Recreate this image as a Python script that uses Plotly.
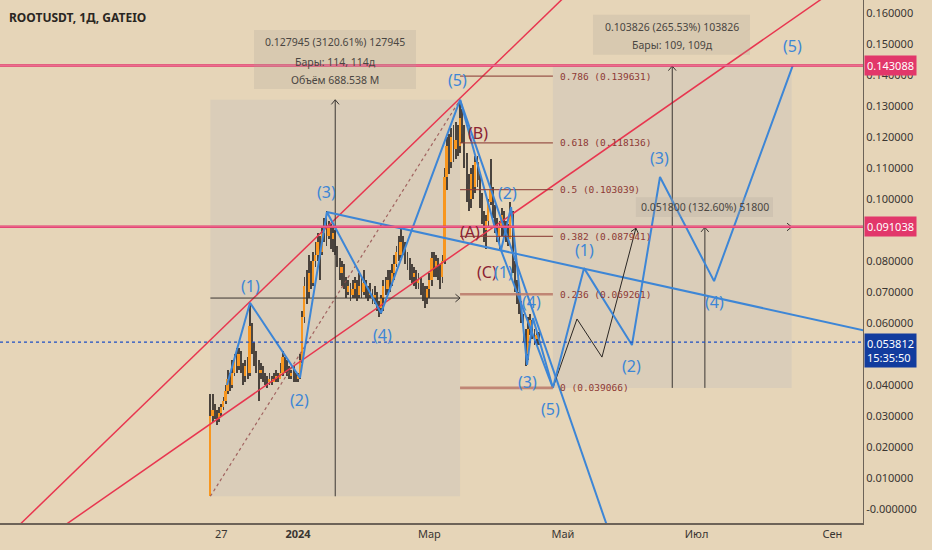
import math
import plotly.graph_objects as go

# ---------------- data (day index relative to 2024-01-01) ----------------
first_day = -40
first_open = 0.0041
close = [0.030, 0.032, 0.030, 0.029, 0.031, 0.033, 0.035, 0.038, 0.042, 0.040,
         0.044, 0.048, 0.046, 0.050, 0.045, 0.043, 0.046, 0.044, 0.059, 0.052,
         0.049, 0.046, 0.044, 0.045, 0.043, 0.042, 0.041, 0.042, 0.041, 0.042,
         0.043, 0.042, 0.044, 0.049, 0.046, 0.045, 0.043, 0.044, 0.043, 0.042,
         0.043, 0.048, 0.062, 0.072, 0.070, 0.076, 0.073, 0.080, 0.082, 0.086,
         0.083, 0.089, 0.091, 0.088, 0.091, 0.087, 0.089, 0.084, 0.080, 0.076,
         0.078, 0.073, 0.070, 0.072, 0.069, 0.071, 0.073, 0.069, 0.072, 0.070,
         0.073, 0.071, 0.069, 0.070, 0.068, 0.069, 0.066, 0.065, 0.068, 0.072,
         0.071, 0.074, 0.073, 0.076, 0.079, 0.083, 0.082, 0.086, 0.084, 0.082,
         0.079, 0.078, 0.075, 0.076, 0.073, 0.074, 0.072, 0.070, 0.068, 0.071,
         0.074, 0.081, 0.078, 0.080, 0.077, 0.075, 0.080, 0.107, 0.117, 0.112,
         0.120, 0.116, 0.119, 0.117, 0.126, 0.121, 0.113, 0.105, 0.100, 0.108,
         0.104, 0.112, 0.106, 0.100, 0.094, 0.090, 0.093, 0.099, 0.103, 0.096,
         0.092, 0.088, 0.091, 0.095, 0.090, 0.089, 0.087, 0.095, 0.078, 0.072,
         0.068, 0.066, 0.062, 0.056, 0.050, 0.058, 0.061, 0.057, 0.055, 0.056,
         0.053812]
high = [0.037, 0.037, 0.034, 0.032, 0.033, 0.034, 0.036, 0.040, 0.045, 0.044,
        0.048, 0.050, 0.052, 0.052, 0.051, 0.047, 0.048, 0.049, 0.066, 0.060,
        0.054, 0.051, 0.048, 0.047, 0.046, 0.044, 0.043, 0.044, 0.043, 0.044,
        0.045, 0.044, 0.047, 0.051, 0.049, 0.048, 0.046, 0.045, 0.046, 0.044,
        0.044, 0.050, 0.064, 0.075, 0.077, 0.082, 0.080, 0.083, 0.086, 0.089,
        0.088, 0.091, 0.094, 0.096, 0.093, 0.092, 0.091, 0.090, 0.085, 0.081,
        0.080, 0.079, 0.075, 0.074, 0.073, 0.074, 0.075, 0.074, 0.076, 0.075,
        0.077, 0.074, 0.072, 0.073, 0.071, 0.072, 0.070, 0.067, 0.069, 0.074,
        0.075, 0.077, 0.077, 0.079, 0.082, 0.085, 0.088, 0.091, 0.088, 0.086,
        0.083, 0.081, 0.079, 0.078, 0.077, 0.076, 0.075, 0.073, 0.072, 0.072,
        0.076, 0.083, 0.083, 0.082, 0.081, 0.079, 0.082, 0.110, 0.120, 0.121,
        0.123, 0.124, 0.125, 0.124, 0.132, 0.129, 0.124, 0.115, 0.108, 0.110,
        0.111, 0.114, 0.114, 0.108, 0.102, 0.096, 0.095, 0.100, 0.113, 0.104,
        0.098, 0.094, 0.093, 0.097, 0.096, 0.093, 0.092, 0.099, 0.096, 0.080,
        0.074, 0.070, 0.067, 0.063, 0.058, 0.062, 0.063, 0.061, 0.058, 0.057,
        0.057]
low = [0.0041, 0.028, 0.029, 0.027, 0.028, 0.030, 0.032, 0.034, 0.037, 0.038,
       0.039, 0.043, 0.044, 0.045, 0.044, 0.040, 0.041, 0.042, 0.043, 0.050,
       0.046, 0.044, 0.035, 0.042, 0.041, 0.040, 0.039, 0.040, 0.040, 0.041,
       0.041, 0.041, 0.042, 0.043, 0.044, 0.043, 0.042, 0.042, 0.041, 0.041,
       0.041, 0.042, 0.047, 0.060, 0.066, 0.068, 0.071, 0.072, 0.078, 0.080,
       0.074, 0.082, 0.086, 0.085, 0.087, 0.084, 0.083, 0.082, 0.078, 0.074,
       0.072, 0.071, 0.068, 0.069, 0.067, 0.068, 0.068, 0.067, 0.068, 0.068,
       0.069, 0.068, 0.067, 0.068, 0.066, 0.066, 0.064, 0.062, 0.063, 0.064,
       0.069, 0.069, 0.070, 0.072, 0.074, 0.078, 0.080, 0.081, 0.082, 0.079,
       0.077, 0.074, 0.073, 0.072, 0.071, 0.071, 0.069, 0.067, 0.065, 0.066,
       0.068, 0.072, 0.075, 0.075, 0.074, 0.071, 0.073, 0.079, 0.103, 0.108,
       0.110, 0.112, 0.113, 0.114, 0.115, 0.118, 0.110, 0.099, 0.096, 0.097,
       0.100, 0.102, 0.104, 0.097, 0.092, 0.086, 0.084, 0.091, 0.098, 0.094,
       0.089, 0.086, 0.084, 0.088, 0.088, 0.086, 0.085, 0.087, 0.076, 0.070,
       0.066, 0.063, 0.060, 0.054, 0.046, 0.048, 0.056, 0.055, 0.053, 0.053,
       0.053]
last_price = 0.053812
countdown = "15:35:50"

# x tick labels
x_tickvals = [-35, 0, 60, 121, 182, 244]
x_ticktext = ["27", "<b>2024</b>", "Мар", "Май", "Июл", "Сен"]
# 0.05 and 0.09 are hidden behind the price tags in the reference
y_tickvals = [0.00, 0.01, 0.02, 0.03, 0.04, 0.06, 0.07, 0.08,
              0.10, 0.11, 0.12, 0.13, 0.14, 0.15, 0.16]
y_ticktext = ["-0.000000"] + ["%.6f" % v for v in y_tickvals[1:]]

# horizontal levels
h_levels = [0.143088, 0.091038]

# fibonacci retracement
fib_x = [74, 116.4]
fib_ratios = [0.786, 0.618, 0.5, 0.382, 0.236, 0]
fib_prices = [0.139631, 0.118136, 0.103039, 0.087941, 0.069261, 0.039066]
fib_names = ["0.786", "0.618", "0.5", "0.382", "0.236", "0"]

# Elliott waves (day, price)
impulse_x = [-32.4, -21.9, 0.9, 13.2, 37.9, 74]
impulse_y = [0.0400, 0.0665, 0.0423, 0.0958, 0.0632, 0.1320]
impulse_lbl_x = [-21.5, 0.5, 13.2, 38.4, 73.0]
impulse_lbl_y = [0.0719, 0.0352, 0.1023, 0.0561, 0.1384]

decline_x = [74, 92.7, 97.3, 104.6, 107.3, 116.4]
decline_y = [0.1320, 0.0835, 0.0974, 0.0465, 0.0616, 0.039066]
decline_lbl_x = [93.8, 95.5, 104.6, 106.6, 115.5]
decline_lbl_y = [0.0765, 0.1019, 0.0410, 0.0668, 0.0323]
decline_side_x = [92.7, 116.4]
decline_side_y = [0.0835, 0.039066]
decline_chan_x = [74, 150]
decline_chan_y = [0.1320, -0.0236]

proj_x = [116.4, 130.6, 152.5, 165.3, 190.0, 226.0]
proj_y = [0.039066, 0.0777, 0.0529, 0.1071, 0.0735, 0.1432]
proj_lbl_x = [131.0, 152.5, 165.3, 190.4, 225.6]
proj_lbl_y = [0.0835, 0.0461, 0.1132, 0.0668, 0.1494]

abc_lbl = ["(A)", "(B)", "(C)"]
abc_x = [78.5, 82.2, 86.2]
abc_y = [0.0894, 0.1213, 0.0765]

black_x = [116.4, 127.4, 138.8, 154.3]
black_y = [0.039066, 0.0613, 0.0490, 0.0906]

trend_x = [13.2, 270]
trend_y = [0.0958, 0.0558]
red_up_x = [-140, 140]
red_up_y = [-0.0139, 0.1777]
red_lo_x = [-140, 260]
red_lo_y = [-0.0217, 0.1748]

# measurements: (x0, x1, y0, y1)
meas1 = (-40, 74, 0.0041, 0.1320)
meas1_text = ["0.127945 (3120.61%) 127945", "Бары: 114, 114д", "Объём 688.538 M"]
meas2 = (116.4, 225.4, 0.039066, 0.142892)
meas2_text = ["0.103826 (265.53%) 103826", "Бары: 109, 109д"]
meas3_x = 185.8
meas3 = (0.039066, 0.090866)
meas3_text = "0.051800 (132.60%) 51800"

# ---------------- styling ----------------
BG = "#E6D5B8"
BLUE = "#3D86D6"
RED = "#E8364F"
HRED = "#E2376A"
FIBC = "rgba(140,62,55,0.85)"
FIBC2 = "rgba(185,120,105,0.85)"
ORANGE = "#F8961E"
DOWN = "rgba(78,72,66,0.85)"
WICK = "#4a433d"
TXT = "#4a4642"

X_RANGE = [-136.07, 258.0]
Y_RANGE = [-0.004516, 0.164194]
PX_PER_DAY = 2.19
PX_PER_UNIT = 3100.0

fig = go.Figure()

days = list(range(first_day, first_day + len(close)))
opens = [first_open] + close[:-1]

# measurement boxes (below)
shapes = []
for (x0, x1, y0, y1) in [meas1, meas2]:
    shapes.append(dict(type="rect", xref="x", yref="y", x0=x0, x1=x1, y0=y0, y1=y1,
                       fillcolor="rgba(185,185,190,0.28)", line=dict(width=0), layer="below"))

# wicks (thin bars, drawn under bodies)
fig.add_trace(go.Bar(x=days, y=[h - l for h, l in zip(high, low)], base=low, width=0.4,
                     marker=dict(color=WICK, line=dict(width=0)), showlegend=False,
                     hoverinfo="skip"))
# bodies
base = [min(o, c) for o, c in zip(opens, close)]
height = [max(abs(c - o), 0.0004) for o, c in zip(opens, close)]
cols = [ORANGE if c >= o else DOWN for o, c in zip(opens, close)]
fig.add_trace(go.Bar(x=days, y=height, base=base, width=0.85,
                     marker=dict(color=cols, line=dict(width=0)), showlegend=False,
                     hoverinfo="skip"))

def line(x, y, color, width, dash="solid"):
    fig.add_trace(go.Scatter(x=x, y=y, mode="lines", line=dict(color=color, width=width, dash=dash),
                             hoverinfo="skip", showlegend=False))

def chevron(tx, ty, fx, fy, color, size=6.0):
    # arrow from (fx,fy) to tip (tx,ty); computed in pixel space
    dxp = (tx - fx) * PX_PER_DAY
    dyp = (ty - fy) * PX_PER_UNIT
    n = math.hypot(dxp, dyp)
    ux, uy = dxp / n, dyp / n
    pts_x, pts_y = [], []
    for s in (1, -1):
        ang = math.radians(40) * s
        rx = -(ux * math.cos(ang) - uy * math.sin(ang)) * size
        ry = -(ux * math.sin(ang) + uy * math.cos(ang)) * size
        pts_x.append(tx + rx / PX_PER_DAY)
        pts_y.append(ty + ry / PX_PER_UNIT)
    line([pts_x[0], tx, pts_x[1]], [pts_y[0], ty, pts_y[1]], color, 1)

# red diagonal lines
line(red_up_x, red_up_y, RED, 1.5)
line(red_lo_x, red_lo_y, RED, 1.5)

# measurement 1 drawing
mx0, mx1, my0, my1 = meas1
line([mx0, mx1], [my0, my1], "rgba(150,80,80,0.85)", 1.2, "3px,3px")
mxm = (mx0 + mx1) / 2
mym = (my0 + my1) / 2
line([mxm, mxm], [my0, my1], "#3b3632", 1)
chevron(mxm, my1, mxm, my0, "#3b3632")
line([mx0, mx1], [mym, mym], "#3b3632", 1)
chevron(mx1, mym, mx0, mym, "#3b3632")

# measurement 2 & 3
nx0, nx1, ny0, ny1 = meas2
nxm = (nx0 + nx1) / 2
nym = (ny0 + ny1) / 2
line([nxm, nxm], [ny0, ny1], "#3b3632", 1)
chevron(nxm, ny1, nxm, ny0, "#3b3632")
line([nx0, nx1], [nym, nym], "#3b3632", 1)
chevron(nx1, nym, nx0, nym, "#3b3632")
line([meas3_x, meas3_x], [meas3[0], meas3[1]], "#3b3632", 1)
chevron(meas3_x, meas3[1], meas3_x, meas3[0], "#3b3632")

# fibonacci lines
for r, p in zip(fib_ratios, fib_prices):
    thick = r in (0, 0.236)
    shapes.append(dict(type="line", xref="x", yref="y", x0=fib_x[0], x1=fib_x[1], y0=p, y1=p,
                       line=dict(color=FIBC2 if thick else FIBC, width=2.6 if thick else 1.2)))

# horizontal levels & last price
for h in h_levels:
    shapes.append(dict(type="line", xref="paper", yref="y", x0=0, x1=1, y0=h, y1=h,
                       line=dict(color=HRED, width=2.6)))
    shapes.append(dict(type="line", xref="paper", yref="y", x0=0, x1=1, y0=h, y1=h,
                       line=dict(color="rgba(255,205,215,0.55)", width=0.7)))
shapes.append(dict(type="line", xref="paper", yref="y", x0=0, x1=1, y0=last_price, y1=last_price,
                   line=dict(color="#1C4FC4", width=1.3, dash="dot")))

# blue lines
line(trend_x, trend_y, BLUE, 2)
line(impulse_x, impulse_y, BLUE, 2)
line(decline_chan_x, decline_chan_y, BLUE, 2)
line(decline_side_x, decline_side_y, BLUE, 2)
line(decline_x, decline_y, BLUE, 2)
line(black_x, black_y, "#2b2724", 1)
chevron(black_x[-1], black_y[-1], black_x[-2], black_y[-2], "#2b2724")
line(proj_x, proj_y, BLUE, 2)

# measurement label boxes
def label_box(x0, x1, y0, y1):
    shapes.append(dict(type="rect", xref="x", yref="y", x0=x0, x1=x1, y0=y0, y1=y1,
                       fillcolor="rgba(170,160,150,0.22)", line=dict(width=0)))

annotations = []
label_box(-20.1, 53.9, 0.1355, 0.1545)
for t, yv in zip(meas1_text, [0.1506, 0.1442, 0.1384]):
    annotations.append(dict(x=mxm, y=yv, text=t, showarrow=False, xref="x", yref="y",
                            font=dict(family="Noto Sans", size=10.5, color=TXT)))
label_box(134.7, 206.4, 0.1465, 0.1594)
for t, yv in zip(meas2_text, [0.1555, 0.1497]):
    annotations.append(dict(x=nxm, y=yv, text=t, showarrow=False, xref="x", yref="y",
                            font=dict(family="Noto Sans", size=10.5, color=TXT)))
label_box(154.3, 216.9, 0.0942, 0.1006)
annotations.append(dict(x=meas3_x, y=0.0974, text=meas3_text, showarrow=False, xref="x", yref="y",
                        font=dict(family="Noto Sans", size=10.5, color=TXT)))

# fib labels
for n, p in zip(fib_names, fib_prices):
    annotations.append(dict(x=fib_x[1] + 2.4, y=p, text="%s (%.6f)" % (n, p), showarrow=False,
                            xref="x", yref="y", xanchor="left",
                            font=dict(family="DejaVu Sans Mono", size=9.5, color="#8E3A36")))

# wave labels
WFONT = dict(family="Noto Sans", size=16, color=BLUE)
for i, (lx, ly) in enumerate(zip(abc_x, abc_y)):
    annotations.append(dict(x=lx, y=ly, text=abc_lbl[i], showarrow=False, xref="x", yref="y",
                            font=dict(family="Noto Sans", size=16, color="#8B2232")))
for group in [(impulse_lbl_x, impulse_lbl_y), (decline_lbl_x, decline_lbl_y), (proj_lbl_x, proj_lbl_y)]:
    for i, (lx, ly) in enumerate(zip(*group)):
        annotations.append(dict(x=lx, y=ly, text="(%d)" % (i + 1), showarrow=False,
                                xref="x", yref="y", font=WFONT))

# right axis price tags
for h in h_levels:
    annotations.append(dict(x=1, xref="paper", y=h, yref="y", xanchor="left", text="%.6f" % h,
                            showarrow=False, bgcolor=HRED, borderpad=2, xshift=1,
                            font=dict(family="Noto Sans", size=11, color="white")))
annotations.append(dict(x=1, xref="paper", y=last_price, yref="y", xanchor="left", yanchor="top",
                        yshift=9, text="%.6f<br>%s" % (last_price, countdown), showarrow=False,
                        bgcolor="#123C9E", borderpad=2, xshift=1, align="left",
                        font=dict(family="Noto Sans", size=11, color="white")))

# title
annotations.append(dict(x=0, xref="paper", y=1, yref="paper", xanchor="left", yanchor="top",
                        xshift=7, yshift=-7, text="<b>ROOTUSDT, 1Д, GATEIO</b>", showarrow=False,
                        font=dict(family="Noto Sans", size=12, color="#2a2622")))

fig.update_layout(
    width=932, height=550,
    margin=dict(l=0, r=69, t=0, b=27),
    paper_bgcolor=BG, plot_bgcolor=BG,
    showlegend=False, barmode="overlay", bargap=0,
    shapes=shapes, annotations=annotations,
    xaxis=dict(range=X_RANGE, tickvals=x_tickvals, ticktext=x_ticktext, showgrid=False,
               zeroline=False, showline=True, linecolor="#6d6358", linewidth=2, ticks="",
               tickfont=dict(family="Noto Sans", size=11, color="#3a3632"), fixedrange=True,
               automargin=False),
    yaxis=dict(range=Y_RANGE, side="right", tickvals=y_tickvals, ticktext=y_ticktext,
               showgrid=False, zeroline=False, showline=True, linecolor="#6d6358", linewidth=1,
               ticks="", tickfont=dict(family="Noto Sans", size=11, color="#3a3632"),
               fixedrange=True, automargin=False),
)

fig.write_html("out.html", config={"displayModeBar": False},
               post_script="document.body.style.margin='0';document.body.style.overflow='hidden';")
